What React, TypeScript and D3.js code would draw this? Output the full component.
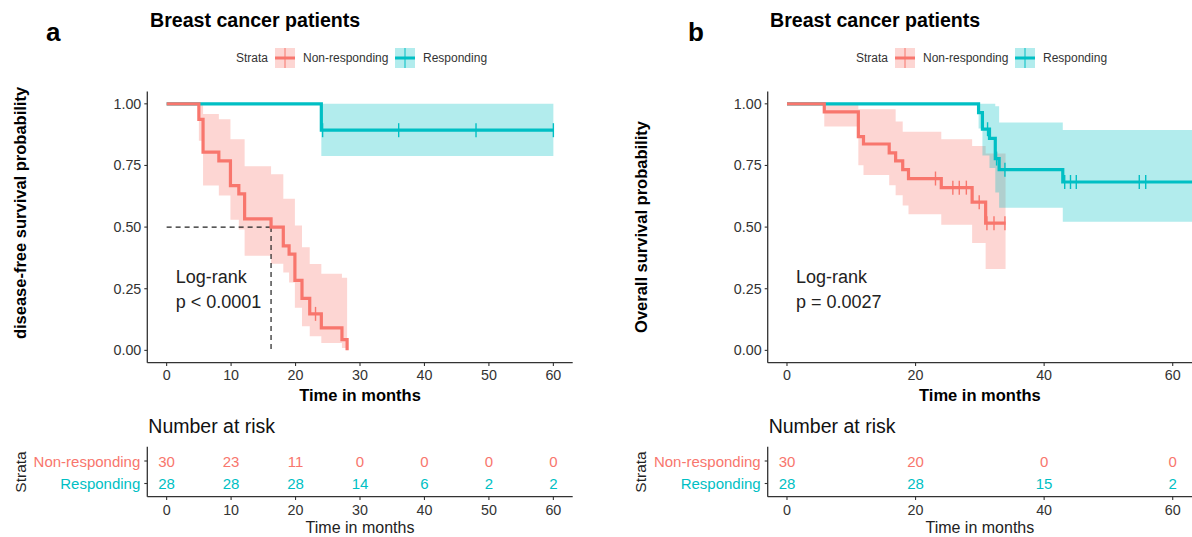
import React from "react";
import * as d3 from "d3";

// ---------- DATA ----------
const strata = ["Non-responding", "Responding"];
const colors = ["#F8766D", "#00BFC4"];

// Panel a: disease-free survival
const aNonTimes = [0, 5.0, 5.65, 8.1, 9.9, 11.2, 12.1, 16.2, 18.1, 19.0, 19.9, 21.0, 22.2, 24.0, 27.2, 28.0];
const aNonSurv = [1, 0.937, 0.804, 0.769, 0.668, 0.635, 0.533, 0.5, 0.424, 0.39, 0.284, 0.211, 0.148, 0.091, 0.044, 0];
const aNonUpper = [1, 1, 0.959, 0.937, 0.856, 0.856, 0.747, 0.714, 0.615, 0.615, 0.506, 0.418, 0.35, 0.311, 0.295, 0];
const aNonLower = [1, 0.85, 0.669, 0.628, 0.53, 0.49, 0.384, 0.351, 0.316, 0.275, 0.173, 0.098, 0.057, 0.03, 0.01, 0];
const aNonCensor = [23.1];
const aNonEnd = 28.0;

const aResTimes = [0, 24.0];
const aResSurv = [1, 0.893];
const aResUpper = [1, 1];
const aResLower = [1, 0.788];
const aResCensor = [24.2, 36, 48, 60];
const aResEnd = 60;

const aMedian = 16.2;
const aPText = "p < 0.0001";
const aYLabel = "disease-free survival probability";
const aTicks = [0, 10, 20, 30, 40, 50, 60];
const aRiskNon = [30, 23, 11, 0, 0, 0, 0];
const aRiskRes = [28, 28, 28, 14, 6, 2, 2];

// Panel b: overall survival
const bNonTimes = [0, 5.8, 11.1, 11.9, 15.9, 16.9, 18.0, 18.9, 24.0, 28.8, 30.9];
const bNonSurv = [1, 0.967, 0.867, 0.837, 0.801, 0.769, 0.733, 0.697, 0.66, 0.601, 0.516];
const bNonUpper = [1, 1, 0.978, 0.978, 0.978, 0.928, 0.887, 0.887, 0.856, 0.829, 0.799];
const bNonLower = [1, 0.908, 0.751, 0.711, 0.67, 0.629, 0.588, 0.552, 0.51, 0.436, 0.33];
const bNonCensor = [23.1, 25.8, 26.8, 27.9, 29.9, 31.1, 32.2, 33.9];
const bNonEnd = 34.0;

const bResTimes = [0, 29.8, 30.4, 31.5, 32.4, 33.0, 42.9];
const bResSurv = [1, 0.964, 0.897, 0.86, 0.778, 0.733, 0.683];
const bResUpper = [1, 1, 1, 1, 0.99, 0.924, 0.894];
const bResLower = [1, 0.9, 0.79, 0.74, 0.64, 0.578, 0.522];
const bResCensor = [31.2, 32.6, 33.9, 43.2, 44.1, 45.0, 54.8, 55.8];
const bResEnd = 63;

const bPText = "p = 0.0027";
const bYLabel = "Overall survival probability";
const bTicks = [0, 20, 40, 60];
const bRiskNon = [30, 20, 0, 0];
const bRiskRes = [28, 28, 15, 2];

const yTicks = [0, 0.25, 0.5, 0.75, 1];
const title = "Breast cancer patients";

// ---------- RENDER ----------
const FONT = "'Liberation Sans', Arial, Helvetica, sans-serif";

type Curve = {
  times: number[]; surv: number[]; upper: number[]; lower: number[];
  censor: number[]; end: number; color: string;
};

type PanelProps = {
  letter: string; letterX: number; left: number; right: number; titleX: number;
  curves: Curve[]; median?: number; pText: string; yLabel: string; yLabelY: number;
  ticks: number[]; riskNon: number[]; riskRes: number[];
};

function stepPts(times: number[], vals: number[], end: number) {
  const pts = times.map((t, i) => [t, vals[i]] as [number, number]);
  pts.push([end, vals[vals.length - 1]]);
  return pts;
}

function survAt(c: Curve, t: number) {
  let s = c.surv[0];
  for (let i = 0; i < c.times.length; i++) if (c.times[i] <= t) s = c.surv[i];
  return s;
}

function Panel(p: PanelProps) {
  const x = d3.scaleLinear().domain([-3, 63]).range([p.left, p.right]);
  const y = d3.scaleLinear().domain([-0.05, 1.05]).range([362.7, 91.5]);
  const rowY = d3.scalePoint<string>().domain(strata).range([461, 483.5]);
  const line = d3.line<[number, number]>().x(d => x(d[0])).y(d => y(d[1])).curve(d3.curveStepAfter);
  const area = d3.area<[number, number, number]>()
    .x(d => x(d[0])).y0(d => y(d[1])).y1(d => y(d[2])).curve(d3.curveStepAfter);
  const cx = (p.left + p.right) / 2;
  const L = p.titleX + 86;
  return (
    <g>
      <text x={p.letterX} y={41} fontSize={26} fontWeight="bold" fontFamily={FONT}>{p.letter}</text>
      <text x={p.titleX} y={27} fontSize={19.6} fontWeight="bold" fontFamily={FONT}>{title}</text>
      {/* legend */}
      <text x={L} y={58} fontSize={12} fill="#333" dominantBaseline="central" fontFamily={FONT}>Strata</text>
      {[0, 1].map(i => {
        const kx = i === 0 ? L + 39 : L + 159;
        const tx = i === 0 ? L + 67 : L + 187;
        return (
          <g key={i}>
            <rect x={kx} y={48} width={20} height={20} fill={colors[i]} fillOpacity={0.3} />
            <line x1={kx} x2={kx + 20} y1={58} y2={58} stroke={colors[i]} strokeWidth={3} />
            <line x1={kx + 10} x2={kx + 10} y1={48} y2={68} stroke={colors[i]} strokeWidth={1} />
            <text x={tx} y={58} fontSize={12} fill="#333" dominantBaseline="central" fontFamily={FONT}>{strata[i]}</text>
          </g>
        );
      })}
      {/* bands */}
      {p.curves.map((c, i) => {
        const pts = c.times.map((t, j) => [t, c.lower[j], c.upper[j]] as [number, number, number]);
        pts.push([c.end, c.lower[c.lower.length - 1], c.upper[c.upper.length - 1]]);
        return <path key={"b" + i} d={area(pts) || ""} fill={c.color} fillOpacity={0.3} stroke="none" />;
      })}
      {/* median lines */}
      {p.median !== undefined && (
        <g stroke="#222" strokeWidth={1.2} strokeDasharray="5,4" fill="none">
          <line x1={x(0)} x2={x(p.median)} y1={y(0.5)} y2={y(0.5)} />
          <line x1={x(p.median)} x2={x(p.median)} y1={y(0.5)} y2={y(0)} />
        </g>
      )}
      {/* curves */}
      {[1, 0].map(i => {
        const c = p.curves[i];
        return (
          <g key={"c" + i}>
            <path d={line(stepPts(c.times, c.surv, c.end)) || ""} fill="none" stroke={c.color} strokeWidth={3.2} />
            {c.censor.map((t, k) => (
              <line key={k} x1={x(t)} x2={x(t)} y1={y(survAt(c, t)) - 7} y2={y(survAt(c, t)) + 7}
                stroke={c.color} strokeWidth={1.4} />
            ))}
          </g>
        );
      })}
      {/* axes */}
      <line x1={p.left} x2={p.left} y1={91.5} y2={362.7} stroke="#333" strokeWidth={1.3} />
      <line x1={p.left} x2={p.right} y1={362.7} y2={362.7} stroke="#333" strokeWidth={1.3} />
      {yTicks.map(t => (
        <g key={t}>
          <line x1={p.left - 3} x2={p.left} y1={y(t)} y2={y(t)} stroke="#333" strokeWidth={1.1} />
          <text x={p.left - 6} y={y(t)} textAnchor="end" dominantBaseline="central" fontSize={14.3}
            fill="#333" fontFamily={FONT}>{t.toFixed(2)}</text>
        </g>
      ))}
      {p.ticks.map(t => (
        <g key={t}>
          <line x1={x(t)} x2={x(t)} y1={362.7} y2={366} stroke="#333" strokeWidth={1.1} />
          <text x={x(t)} y={375} textAnchor="middle" dominantBaseline="central" fontSize={14.3}
            fill="#333" fontFamily={FONT}>{t}</text>
        </g>
      ))}
      <text x={cx} y={395} textAnchor="middle" dominantBaseline="central" fontSize={16.5} fontWeight="bold"
        fontFamily={FONT}>Time in months</text>
      <text transform={`translate(${p.left - 127},${p.yLabelY}) rotate(-90)`} textAnchor="middle"
        dominantBaseline="central" fontSize={16.5} fontWeight="bold" fontFamily={FONT}>{p.yLabel}</text>
      <text x={x(0) + 9} y={277} fontSize={18} dominantBaseline="central" fill="#222" fontFamily={FONT}>Log-rank</text>
      <text x={x(0) + 9} y={302} fontSize={18} dominantBaseline="central" fill="#222" fontFamily={FONT}>{p.pText}</text>
      {/* risk table */}
      <text x={p.left + 1} y={426} fontSize={19.5} dominantBaseline="central" fill="#111" fontFamily={FONT}>Number at risk</text>
      <line x1={p.left} x2={p.left} y1={446.7} y2={496.7} stroke="#333" strokeWidth={1.3} />
      <line x1={p.left} x2={p.right} y1={496.7} y2={496.7} stroke="#333" strokeWidth={1.3} />
      {strata.map((s, i) => (
        <g key={s}>
          <line x1={p.left - 3} x2={p.left} y1={rowY(s)!} y2={rowY(s)!} stroke="#333" strokeWidth={1.1} />
          <text x={p.left - 7} y={rowY(s)!} textAnchor="end" dominantBaseline="central" fontSize={15}
            fill={colors[i]} fontFamily={FONT}>{s}</text>
          {(i === 0 ? p.riskNon : p.riskRes).map((v, k) => (
            <text key={k} x={x(p.ticks[k])} y={rowY(s)!} textAnchor="middle" dominantBaseline="central"
              fontSize={15} fill={colors[i]} fontFamily={FONT}>{v}</text>
          ))}
        </g>
      ))}
      {p.ticks.map(t => (
        <g key={"r" + t}>
          <line x1={x(t)} x2={x(t)} y1={496.7} y2={500} stroke="#333" strokeWidth={1.1} />
          <text x={x(t)} y={510} textAnchor="middle" dominantBaseline="central" fontSize={14.3}
            fill="#333" fontFamily={FONT}>{t}</text>
        </g>
      ))}
      <text x={cx} y={527} textAnchor="middle" dominantBaseline="central" fontSize={16} fill="#222"
        fontFamily={FONT}>Time in months</text>
      <text transform={`translate(${p.left - 127},472) rotate(-90)`} textAnchor="middle"
        dominantBaseline="central" fontSize={15.5} fill="#222" fontFamily={FONT}>Strata</text>
    </g>
  );
}

export default function App() {
  const aCurves: Curve[] = [
    { times: aNonTimes, surv: aNonSurv, upper: aNonUpper, lower: aNonLower, censor: aNonCensor, end: aNonEnd, color: colors[0] },
    { times: aResTimes, surv: aResSurv, upper: aResUpper, lower: aResLower, censor: aResCensor, end: aResEnd, color: colors[1] },
  ];
  const bCurves: Curve[] = [
    { times: bNonTimes, surv: bNonSurv, upper: bNonUpper, lower: bNonLower, censor: bNonCensor, end: bNonEnd, color: colors[0] },
    { times: bResTimes, surv: bResSurv, upper: bResUpper, lower: bResLower, censor: bResCensor, end: bResEnd, color: colors[1] },
  ];
  return (
    <svg width={1192} height={537} style={{ position: "absolute", left: 0, top: 0, background: "#fff" }}>
      <rect width={1192} height={537} fill="#fff" />
      <Panel letter="a" letterX={46} left={147.3} right={572.7} titleX={150} curves={aCurves} median={aMedian}
        pText={aPText} yLabel={aYLabel} yLabelY={213} ticks={aTicks} riskNon={aRiskNon} riskRes={aRiskRes} />
      <Panel letter="b" letterX={688} left={767.7} right={1192} titleX={770} curves={bCurves}
        pText={bPText} yLabel={bYLabel} yLabelY={227} ticks={bTicks} riskNon={bRiskNon} riskRes={bRiskRes} />
    </svg>
  );
}
